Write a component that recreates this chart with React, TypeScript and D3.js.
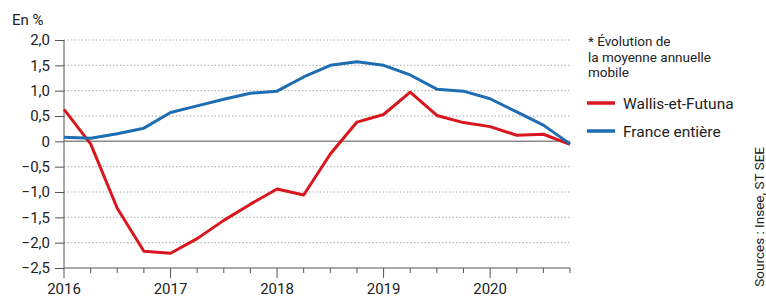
import * as d3 from 'd3';
import { useEffect, useRef } from 'react';

// quarterly points, 2016 T1 -> 2020 T4
const quarters = d3.range(0, 20).map((i) => 2016 + i * 0.25);

const wallis = [
    0.63, -0.05, -1.32, -2.17, -2.21, -1.92, -1.56, -1.24, -0.94, -1.06,
    -0.25, 0.38, 0.53, 0.97, 0.51, 0.37, 0.29, 0.12, 0.14, -0.06,
];
const france = [
    0.08, 0.06, 0.15, 0.26, 0.57, 0.70, 0.83, 0.95, 0.99, 1.27,
    1.50, 1.57, 1.50, 1.31, 1.03, 0.99, 0.84, 0.58, 0.32, -0.05,
];

const yTicks = [2, 1.5, 1, 0.5, 0, -0.5, -1, -1.5, -2, -2.5];
const yearTicks = [2016, 2017, 2018, 2019, 2020];

const series = [
    { name: 'Wallis-et-Futuna', values: wallis, color: '#d9161e' },
    { name: 'France entière', values: france, color: '#1d6db3' },
];

const noteLines = ['* Évolution de', 'la moyenne annuelle', 'mobile'];

const width = 766;
const height = 297;
const margin = { top: 40, right: 196, bottom: 29, left: 64 };
const font = 'Roboto, "Open Sans", sans-serif';

function App() {
    const ref = useRef<SVGSVGElement>(null);

    useEffect(() => {
        const svg = d3.select(ref.current);
        svg.selectAll('*').remove();

        const x = d3.scaleLinear().domain([2016, 2020.75]).range([margin.left, width - margin.right]);
        const y = d3.scaleLinear().domain([2, -2.5]).range([margin.top, height - margin.bottom]);

        // dotted grid
        svg.append('g')
            .selectAll('line')
            .data(yTicks.filter((t) => t !== 0 && t !== -2.5))
            .join('line')
            .attr('x1', x(2016))
            .attr('x2', x(2020.75))
            .attr('y1', (d) => y(d))
            .attr('y2', (d) => y(d))
            .attr('stroke', '#aaa')
            .attr('stroke-width', 1)
            .attr('stroke-dasharray', '1.5,2');

        // zero line
        svg.append('line')
            .attr('x1', x(2016))
            .attr('x2', x(2020.75))
            .attr('y1', y(0))
            .attr('y2', y(0))
            .attr('stroke', '#8a8a8a')
            .attr('stroke-width', 1.5);

        // y axis
        const yAxis = d3.axisLeft(y)
            .tickValues(yTicks)
            .tickSize(9)
            .tickPadding(5)
            .tickFormat((d) => (d === 0 ? '0' : d3.format('.1f')(d as number).replace('.', ',')));
        svg.append('g')
            .attr('transform', `translate(${margin.left},0)`)
            .call(yAxis)
            .call((g) => g.select('.domain').attr('stroke', '#555').attr('d', `M0,${y(2)}V${y(-2.5)}`))
            .call((g) => g.selectAll('.tick line').attr('stroke', '#555'))
            .call((g) => g.selectAll('text').attr('font-family', font).attr('font-size', 15).attr('fill', '#222'));

        // x axis with quarter ticks
        const base = y(-2.5);
        svg.append('line')
            .attr('x1', x(2016))
            .attr('x2', x(2020.75))
            .attr('y1', base)
            .attr('y2', base)
            .attr('stroke', '#555');
        svg.append('g')
            .selectAll('line')
            .data(quarters)
            .join('line')
            .attr('x1', (d) => x(d))
            .attr('x2', (d) => x(d))
            .attr('y1', base)
            .attr('y2', (d) => base + (Number.isInteger(d) ? 10 : 5))
            .attr('stroke', '#555');
        svg.append('g')
            .selectAll('text')
            .data(yearTicks)
            .join('text')
            .attr('x', (d) => x(d))
            .attr('y', 294)
            .attr('text-anchor', 'middle')
            .attr('font-family', font)
            .attr('font-size', 15)
            .attr('fill', '#222')
            .text((d) => d);

        svg.append('text')
            .attr('x', 12)
            .attr('y', 25)
            .attr('font-family', font)
            .attr('font-size', 15)
            .attr('fill', '#222')
            .text('En %');

        // lines
        const line = d3.line<number>()
            .x((_, i) => x(quarters[i]))
            .y((d) => y(d));
        svg.append('g')
            .selectAll('path')
            .data(series)
            .join('path')
            .attr('d', (s) => line(s.values))
            .attr('fill', 'none')
            .attr('stroke', (s) => s.color)
            .attr('stroke-width', 3)
            .attr('stroke-linejoin', 'round');

        // note + legend
        svg.append('g')
            .selectAll('text')
            .data(noteLines)
            .join('text')
            .attr('x', 588)
            .attr('y', (_, i) => 46 + i * 15.5)
            .attr('font-family', font)
            .attr('font-size', 13.5)
            .attr('fill', '#222')
            .text((d) => d);

        const legend = svg.append('g')
            .selectAll('g')
            .data(series)
            .join('g')
            .attr('transform', (_, i) => `translate(587,${103 + i * 28})`);
        legend.append('line')
            .attr('x1', 0)
            .attr('x2', 28)
            .attr('stroke', (s) => s.color)
            .attr('stroke-width', 3.5);
        legend.append('text')
            .attr('x', 36)
            .attr('y', 5.5)
            .attr('font-family', font)
            .attr('font-size', 15.5)
            .attr('fill', '#222')
            .text((s) => s.name);

        svg.append('text')
            .attr('transform', 'translate(764,147) rotate(-90)')
            .attr('text-anchor', 'end')
            .attr('font-family', font)
            .attr('font-size', 13.5)
            .attr('fill', '#222')
            .text('Sources : Insee, ST SEE');
    }, []);

    return (
        <div style={{ position: 'fixed', left: 0, top: 0 }}>
            <svg ref={ref} width={width} height={height} style={{ display: 'block', background: '#fff' }} />
        </div>
    );
}

export default App;
